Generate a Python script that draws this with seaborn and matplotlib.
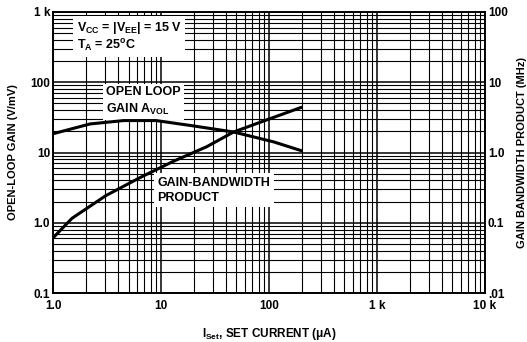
import matplotlib
matplotlib.use('Agg')
import matplotlib.pyplot as plt
import seaborn as sns
from matplotlib.ticker import LogLocator, FixedLocator, NullFormatter

# data (log-log)
avol_iset = [1.0, 2.2, 4.5, 9.0, 18.6, 47.0, 110.0, 200.0]
avol_vmv = [18.5, 25.5, 28.5, 28.5, 24.3, 19.6, 14.2, 10.6]

gbw_iset = [1.0, 1.5, 3.1, 6.4, 13.0, 26.5, 47.0, 110.0, 200.0]
gbw_mhz = [0.061, 0.116, 0.245, 0.44, 0.75, 1.21, 1.96, 3.16, 4.4]

x_ticks = [1, 10, 100, 1000, 10000]
x_labels = ['1.0', '10', '100', '1 k', '10 k']
yl_ticks = [0.1, 1, 10, 100, 1000]
yl_labels = ['0.1', '1.0', '10', '100', '1 k']
yr_ticks = [0.01, 0.1, 1, 10, 100]
yr_labels = ['.01', '0.1', '1.0', '10', '100']

sns.set_style('ticks')
plt.rcParams['font.family'] = ['Liberation Sans', 'DejaVu Sans']
plt.rcParams['font.weight'] = 'bold'
plt.rcParams['text.color'] = 'black'
plt.rcParams['axes.labelcolor'] = 'black'
plt.rcParams['xtick.color'] = 'black'
plt.rcParams['ytick.color'] = 'black'
plt.rcParams['mathtext.fontset'] = 'custom'
plt.rcParams['mathtext.rm'] = 'Liberation Sans:bold'
plt.rcParams['mathtext.bf'] = 'Liberation Sans:bold'
plt.rcParams['mathtext.it'] = 'Liberation Sans:bold:italic'
plt.rcParams['mathtext.default'] = 'bf'

fig = plt.figure(figsize=(5.27, 3.42), dpi=100)
ax = fig.add_axes([0.1006, 0.143, 0.8197, 0.822])
ax2 = ax.twinx()

ax.set_xscale('log')
ax.set_yscale('log')
ax2.set_yscale('log')
ax.set_xlim(1, 10000)
ax.set_ylim(0.1, 1000)
ax2.set_ylim(0.01, 100)

ax.grid(True, which='major', color='black', lw=1.1)
ax.grid(True, which='minor', color='black', lw=0.8)
ax.xaxis.set_minor_locator(LogLocator(base=10, subs=range(2, 10)))
ax.yaxis.set_minor_locator(LogLocator(base=10, subs=range(2, 10)))
ax.xaxis.set_minor_formatter(NullFormatter())
ax.yaxis.set_minor_formatter(NullFormatter())
ax2.yaxis.set_minor_locator(FixedLocator([]))
ax2.yaxis.set_minor_formatter(NullFormatter())

sns.lineplot(x=avol_iset, y=avol_vmv, ax=ax, color='black', lw=2.2, zorder=5)
sns.lineplot(x=gbw_iset, y=gbw_mhz, ax=ax2, color='black', lw=2.2, zorder=5)

ax.set_xticks(x_ticks)
ax.set_xticklabels(x_labels)
ax.set_yticks(yl_ticks)
ax.set_yticklabels(yl_labels)
ax2.set_yticks(yr_ticks)
ax2.set_yticklabels(yr_labels)
for a in (ax, ax2):
    a.tick_params(which='both', length=0, labelsize=8.5, pad=2)
    for s in a.spines.values():
        s.set_color('black')
        s.set_linewidth(1.2)
ax.tick_params(axis='x', pad=5)

ax.set_xlabel('I$_{Set}$, SET CURRENT ($\\mu$A)', fontsize=8.5, fontweight='bold', labelpad=10)
ax.set_ylabel('OPEN-LOOP GAIN (V/mV)', fontsize=8, fontweight='bold', labelpad=9)
ax2.set_ylabel('GAIN BANDWIDTH PRODUCT (MHz)', fontsize=8, fontweight='bold', labelpad=7)

# label boxes sit above the grid but below the curves
box = dict(facecolor='white', edgecolor='none', pad=2.5)
ax.text(1.65, 440, 'V$_{CC}$ = |V$_{EE}$| = 15 V\nT$_{A}$ = 25$^{o}$C',
        fontsize=9, fontweight='bold', va='center', ha='left', bbox=box, zorder=4,
        linespacing=1.15)
ax.text(3.1, 53, 'OPEN LOOP\nGAIN A$_{VOL}$', fontsize=9, fontweight='bold',
        va='center', ha='left', bbox=box, zorder=4, linespacing=1.3)
ax.text(9.3, 2.9, 'GAIN-BANDWIDTH\nPRODUCT', fontsize=9, fontweight='bold',
        va='center', ha='left', bbox=box, zorder=4, linespacing=1.3)

fig.savefig('out.png', dpi=100)
